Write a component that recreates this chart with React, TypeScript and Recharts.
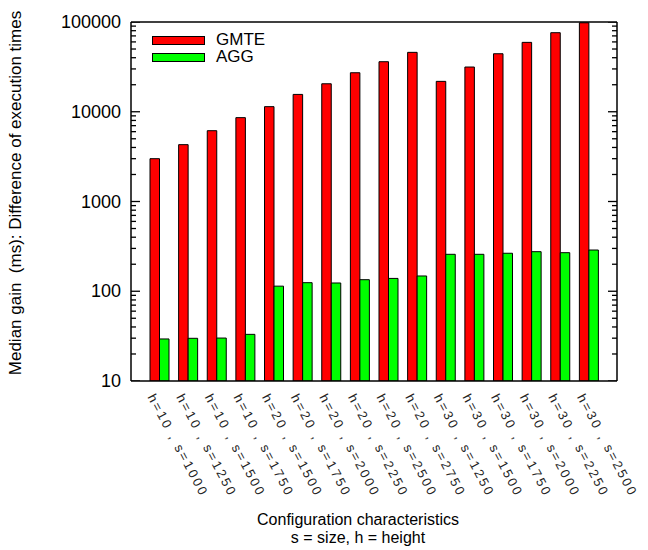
import React from "react";
import { ComposedChart, Bar, Scatter, XAxis, YAxis } from "recharts";

const categories = [
  "h=10 , s=1000", "h=10 , s=1250", "h=10 , s=1500", "h=10 , s=1750",
  "h=20 , s=1500", "h=20 , s=1750", "h=20 , s=2000", "h=20 , s=2250",
  "h=20 , s=2500", "h=20 , s=2750", "h=30 , s=1250", "h=30 , s=1500",
  "h=30 , s=1750", "h=30 , s=2000", "h=30 , s=2250", "h=30 , s=2500",
];
const gmte = [3000, 4300, 6150, 8600, 11400, 15600, 20500, 27200, 36100, 45900, 21800, 31500, 44300, 59300, 76000, 98000];
const agg = [29.4, 29.9, 30.1, 33.1, 114, 124.6, 123.6, 134.5, 139, 148, 258, 258, 265, 276, 269, 288];

const majorTicks = [10, 100, 1000, 10000, 100000];
const minorSteps = [2, 3, 4, 5, 6, 7, 8, 9];
const minorTicks = majorTicks.slice(0, -1).flatMap((m) => minorSteps.map((k) => m * k));

const data = categories.map((c, i) => ({ name: c, GMTE: gmte[i], AGG: agg[i] }));

// tick marks on both borders (x: 0 = left border, 1 = right border)
const tickMarks = [0, 1].flatMap((side) => [
  ...majorTicks.map((v) => ({ x: side, y: v, major: true })),
  ...minorTicks.map((v) => ({ x: side, y: v, major: false })),
]);

const FONT = "'Liberation Sans', Arial, Helvetica, sans-serif";
const DOMAIN: [number, number] = [10, 100000];

function YLabel(props: any) {
  const { x, y, payload } = props;
  return (
    <text x={x - 10} y={y} textAnchor="end" dominantBaseline="central" fontSize={18} fontFamily={FONT} fill="#000">
      {payload.value}
    </text>
  );
}

function TickMark(props: any) {
  const { cx, cy, payload } = props;
  const len = payload.major ? 9 : 5;
  const dir = payload.x === 0 ? 1 : -1;
  return <line x1={cx} x2={cx + dir * len} y1={cy} y2={cy} stroke="#000" strokeWidth={1.3} />;
}

function XTick(props: any) {
  const { x, y, payload } = props;
  return (
    <g transform={`translate(${x - 12},${y + 16}) rotate(62)`}>
      <text x={0} y={0} fontSize={13} letterSpacing={2.4} fontFamily={FONT} fill="#222">
        {payload.value}
      </text>
    </g>
  );
}

export default function App() {
  return (
    <div style={{ position: "relative", width: 640, height: 542, fontFamily: FONT }}>
      <ComposedChart
        width={640}
        height={542}
        data={data}
        margin={{ top: 13, right: 30, bottom: 39, left: 63 }}
        barGap={0}
      >
        <XAxis
          dataKey="name"
          xAxisId="bottom"
          interval={0}
          height={130}
          tickSize={0}
          tickMargin={0}
          tick={(p: any) => <XTick {...p} />}
          axisLine={{ stroke: "#000", strokeWidth: 1.5 }}
          tickLine={false}
          padding={{ left: 14, right: 14 }}
        />
        <XAxis
          dataKey="name"
          xAxisId="top"
          orientation="top"
          height={1}
          tick={false}
          tickLine={false}
          axisLine={{ stroke: "#000", strokeWidth: 1.5 }}
        />
        <XAxis xAxisId="num" type="number" dataKey="x" domain={[0, 1]} hide />
        <YAxis
          yAxisId="left"
          scale="log"
          domain={DOMAIN}
          allowDataOverflow
          ticks={majorTicks}
          interval={0}
          width={60}
          tickSize={0}
          tickMargin={0}
          tick={(p: any) => <YLabel {...p} />}
          tickLine={false}
          axisLine={{ stroke: "#000", strokeWidth: 1.5 }}
        />
        <YAxis
          yAxisId="right"
          orientation="right"
          scale="log"
          domain={DOMAIN}
          allowDataOverflow
          ticks={majorTicks}
          width={1}
          tick={false}
          tickLine={false}
          axisLine={{ stroke: "#000", strokeWidth: 1.5 }}
        />
        <Bar dataKey="GMTE" xAxisId="bottom" yAxisId="left" fill="#ff0000" stroke="#000" strokeWidth={1} barSize={9.5} isAnimationActive={false} />
        <Bar dataKey="AGG" xAxisId="bottom" yAxisId="left" fill="#00ff00" stroke="#000" strokeWidth={1} barSize={9.5} isAnimationActive={false} />
        <Scatter
          data={tickMarks}
          dataKey="y"
          xAxisId="num"
          yAxisId="left"
          shape={(p: any) => <TickMark {...p} />}
          isAnimationActive={false}
        />
      </ComposedChart>

      {/* legend */}
      <div style={{ position: "absolute", left: 144, top: 28, width: 51, height: 7, background: "#ff0000", border: "1px solid #000" }} />
      <div style={{ position: "absolute", left: 144, top: 45, width: 51, height: 7, background: "#00ff00", border: "1px solid #000" }} />
      <div style={{ position: "absolute", left: 208, top: 24, fontSize: 17, lineHeight: "15px" }}>GMTE</div>
      <div style={{ position: "absolute", left: 208, top: 41, fontSize: 17, lineHeight: "15px" }}>AGG</div>

      {/* y title */}
      <div style={{ position: "absolute", left: 8, top: 185, width: 0, height: 0 }}>
        <div style={{ position: "absolute", transform: "translate(-50%,-50%) rotate(-90deg)", whiteSpace: "nowrap", fontSize: 17 }}>
          Median gain&nbsp; (ms): Difference of execution times
        </div>
      </div>

      {/* x title */}
      <div style={{ position: "absolute", left: 150, width: 400, top: 503, textAlign: "center", fontSize: 16, lineHeight: "18px", whiteSpace: "nowrap" }}>
        Configuration characteristics
        <br />s = size, h = height
      </div>
    </div>
  );
}
